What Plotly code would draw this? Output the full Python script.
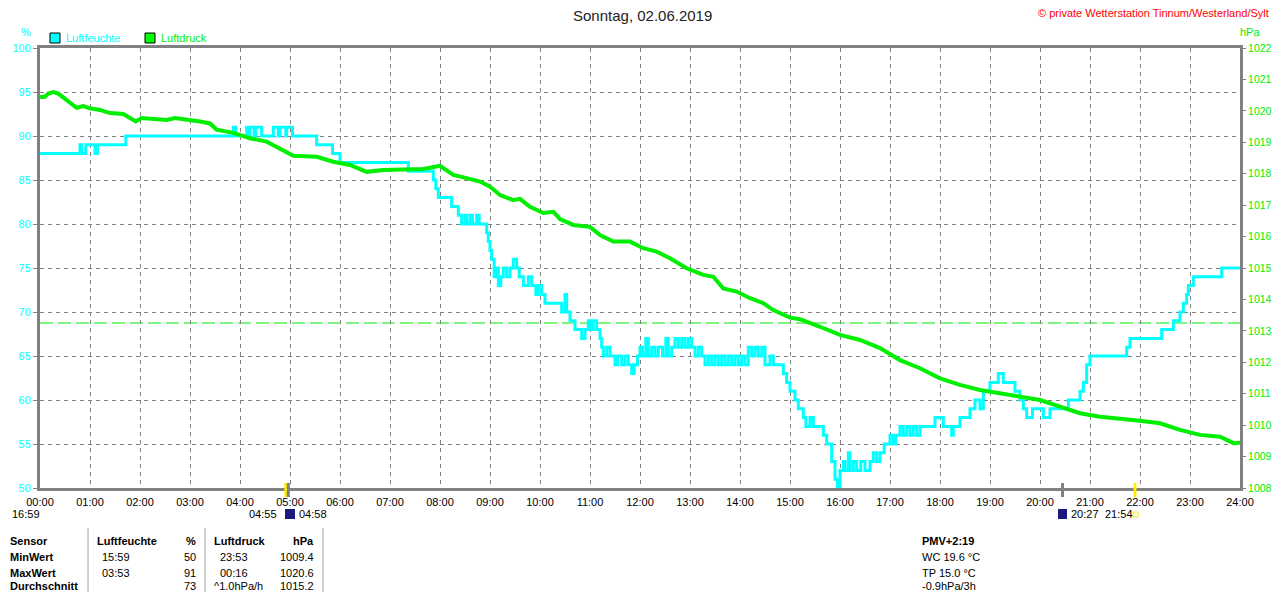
import plotly.graph_objects as go

# ---------------- data ----------------
hum_times = ["00:00","00:48","00:50","00:55","01:06","01:09","01:43","03:52","03:55","04:08","04:10",
             "04:12","04:17","04:19","04:26","04:40","04:46","04:48","04:55","04:56","05:03","05:32",
             "05:51","06:00","07:22","07:52","07:55","07:58","08:14","08:22","08:26","08:30","08:32",
             "08:36","08:39","08:44","08:47","08:56","08:58","09:00","09:02","09:05","09:08","09:10",
             "09:13","09:16","09:20","09:24","09:28","09:32","09:35","09:40","09:46","09:50","09:55",
             "09:58","10:02","10:06","10:26","10:30","10:32","10:36","10:42","10:50","10:54","10:58",
             "11:01","11:04","11:08","11:12","11:14","11:16","11:20","11:24","11:30","11:33","11:38",
             "11:42","11:46","11:50","11:53","11:57","12:00","12:03","12:07","12:10","12:14","12:18",
             "12:22","12:27","12:31","12:34","12:38","12:42","12:46","12:50","12:54","12:58","13:02",
             "13:06","13:10","13:14","13:18","13:22","13:26","13:30","13:34","13:38","13:42","13:46",
             "13:50","13:54","13:58","14:02","14:06","14:10","14:14","14:18","14:22","14:26","14:30",
             "14:36","14:40","14:52","14:56","15:00","15:06","15:10","15:16","15:19","15:24","15:28",
             "15:40","15:44","15:50","15:54","15:57","16:00","16:04","16:06","16:10","16:12","16:16",
             "16:20","16:25","16:30","16:36","16:40","16:44","16:48","16:53","17:00","17:04","17:07",
             "17:12","17:16","17:20","17:24","17:28","17:32","17:36","17:54","18:04","18:14","18:16",
             "18:24","18:36","18:42","18:48","18:52","19:00","19:10","19:16","19:30","19:36","19:40",
             "19:44","19:51","20:04","20:12","20:34","20:48","20:52","20:56","21:00","21:44","21:48",
             "22:26","22:40","22:48","22:52","22:56","22:58","23:04","23:38","24:00"]
hum_values = [88,89,88,89,88,89,90,91,90,91,90,
              91,90,91,90,91,90,91,90,91,90,89,
              88,87,86,85,84,83,82,81,80,81,80,
              81,80,81,80,79,78,77,76,74,75,73,
              74,75,74,75,76,75,74,73,74,73,72,
              73,72,71,70,72,70,69,68,67,68,69,
              68,69,68,67,66,65,66,65,64,65,64,
              65,64,63,64,65,66,65,67,65,66,65,
              66,65,67,65,66,67,66,67,66,67,66,
              65,66,65,64,65,64,65,64,65,64,65,
              64,65,64,65,64,66,65,66,65,66,64,
              65,64,63,62,61,60,59,58,57,58,57,
              56,55,53,51,50,52,53,52,54,52,53,
              52,53,52,53,54,53,54,55,56,55,56,
              57,56,57,56,57,56,57,58,57,56,57,
              58,59,60,59,61,62,63,62,61,60,59,
              58,59,58,59,60,61,62,64,65,66,67,
              68,69,70,71,72,73,74,75,75]

pres_times = ["00:00","00:06","00:10","00:16","00:22","00:32","00:44","00:52","01:00","01:12","01:24",
              "01:40","01:55","02:02","02:12","02:32","02:42","03:00","03:12","03:24","03:32","03:52",
              "04:12","04:32","04:52","05:04","05:32","05:52","06:12","06:32","06:52","07:12","07:40",
              "08:00","08:16","08:32","08:48","09:00","09:12","09:28","09:36","09:48","10:04","10:16",
              "10:24","10:40","11:00","11:12","11:28","11:48","12:04","12:20","12:36","12:56","13:16",
              "13:28","13:40","13:56","14:12","14:28","14:40","15:00","15:12","15:36","16:00","16:24",
              "16:48","17:12","17:36","18:00","18:24","18:48","19:12","19:36","20:00","20:24","20:48",
              "21:12","21:36","22:00","22:24","22:48","23:12","23:36","23:53","24:00"]
pres_values = [1020.44,1020.45,1020.55,1020.60,1020.55,1020.35,1020.10,1020.15,1020.08,1020.03,1019.93,
               1019.90,1019.66,1019.77,1019.74,1019.71,1019.77,1019.72,1019.66,1019.60,1019.40,1019.30,
               1019.13,1019.02,1018.75,1018.57,1018.54,1018.38,1018.28,1018.06,1018.12,1018.12,1018.15,
               1018.25,1017.96,1017.86,1017.75,1017.59,1017.32,1017.16,1017.20,1016.95,1016.75,1016.79,
               1016.56,1016.37,1016.31,1016.05,1015.84,1015.84,1015.63,1015.52,1015.31,1014.99,1014.78,
               1014.72,1014.35,1014.25,1014.04,1013.88,1013.66,1013.42,1013.37,1013.13,1012.87,1012.71,
               1012.45,1012.07,1011.81,1011.49,1011.28,1011.12,1011.01,1010.91,1010.80,1010.59,1010.38,
               1010.27,1010.22,1010.14,1010.06,1009.85,1009.69,1009.63,1009.42,1009.45]

ref_pressure = 1013.25
x_tick_vals = list(range(0, 25))
x_tick_text = ["%02d:00" % h for h in x_tick_vals]
hum_ticks = [50, 55, 60, 65, 70, 75, 80, 85, 90, 95, 100]
pres_ticks = list(range(1008, 1023))

sun_events = [("04:55", "#ffee00"), ("04:58", "#808080"), ("20:27", "#808080"), ("21:54", "#ffee00")]

table_rows = [
    ["Sensor", "Luftfeuchte", "%", "Luftdruck", "hPa"],
    ["MinWert", "15:59", "50", "23:53", "1009.4"],
    ["MaxWert", "03:53", "91", "00:16", "1020.6"],
    ["Durchschnitt", "", "73", "^1.0hPa/h", "1015.2"],
]
side_rows = ["PMV+2:19", "WC 19.6 °C", "TP 15.0 °C", "-0.9hPa/3h"]


def to_h(t):
    h, m = t.split(":")
    return int(h) + int(m) / 60.0


CYAN = "#00ffff"
GREEN = "#00ee00"
GRAY = "#808080"
FONT = "Liberation Sans"

# pixel helpers in screen pixels (plot area: x 40..1240, y 48..488)
def px(x):
    return (x - 40) / 1200.0

def py(y):
    return (488 - y) / 440.0


fig = go.Figure()
fig.add_trace(go.Scatter(x=[to_h(t) for t in pres_times], y=pres_values, yaxis="y2",
                         mode="lines", line=dict(color=GREEN, width=4), hoverinfo="skip"))
fig.add_trace(go.Scatter(x=[to_h(t) for t in hum_times], y=hum_values,
                         mode="lines", line=dict(color=CYAN, width=3, shape="hv"), hoverinfo="skip"))

shapes = []
shapes.append(dict(type="line", xref="x", yref="y2", x0=0, x1=24, y0=ref_pressure, y1=ref_pressure,
                   line=dict(color=GREEN, width=1, dash="13px,5px"), layer="below"))
for t, c in sun_events:
    shapes.append(dict(type="line", xref="x", yref="paper", x0=to_h(t), x1=to_h(t),
                       y0=py(483), y1=py(497), line=dict(color=c, width=3)))
shapes.append(dict(type="rect", xref="paper", yref="paper", x0=px(50), x1=px(60), y0=py(43), y1=py(33),
                   fillcolor=CYAN, line=dict(color="black", width=1)))
shapes.append(dict(type="rect", xref="paper", yref="paper", x0=px(145), x1=px(155), y0=py(43), y1=py(33),
                   fillcolor="#00ff00", line=dict(color="black", width=1)))
for sx in [88, 205, 323]:
    shapes.append(dict(type="line", xref="paper", yref="paper", x0=px(sx), x1=px(sx),
                       y0=py(528), y1=py(592), line=dict(color="#a0a0a0", width=1)))
shapes.append(dict(type="path", xref="paper", yref="paper",
                   path="M %f %f A 1 1 0 0 1 %f %f Z" % (px(40), py(517), px(48), py(517)),
                   fillcolor="#ffee00", line=dict(color="#ffee00", width=1)))
shapes.append(dict(type="rect", xref="paper", yref="paper", x0=px(285), x1=px(295), y0=py(519), y1=py(509),
                   fillcolor="#1a1a80", line=dict(width=0)))
shapes.append(dict(type="rect", xref="paper", yref="paper", x0=px(1058), x1=px(1067), y0=py(519), y1=py(509),
                   fillcolor="#1a1a80", line=dict(width=0)))
shapes.append(dict(type="rect", xref="paper", yref="paper", x0=px(1133), x1=px(1138), y0=py(517), y1=py(512),
                   fillcolor="rgba(0,0,0,0)", line=dict(color="#ffee00", width=1)))

ann = []
def text(x, y, s, color="black", size=11, xanchor="left", bold=False):
    ann.append(dict(xref="paper", yref="paper", x=px(x), y=py(y), text=("<b>%s</b>" % s) if bold else s,
                    showarrow=False, xanchor=xanchor, yanchor="middle",
                    font=dict(family=FONT, size=size, color=color)))

text(643, 15, "Sonntag, 02.06.2019", color="#222222", size=15, xanchor="center")
text(1271, 13, "© private Wetterstation Tinnum/Westerland/Sylt", color="#ff0000", size=11, xanchor="right")
text(26, 32, "%", color=CYAN, size=11, xanchor="center")
text(1250, 32, "hPa", color="#00ee00", size=11, xanchor="center")
text(64, 38, "Luftfeuchte", color=CYAN, size=11)
text(159, 38, "Luftdruck", color="#00ee00", size=11)

text(10, 514, "16:59")
text(279, 514, "04:55", xanchor="right")
text(297, 514, "04:58")
text(1069, 514, "20:27")
text(1103, 514, "21:54")

row_y = [541, 557, 573, 586]
for i, row in enumerate(table_rows):
    b = (i == 0)
    text(8, row_y[i], row[0], bold=True)
    if row[1]:
        text(95 if b else 100, row_y[i], row[1], bold=b)
    text(198, row_y[i], row[2], xanchor="right", bold=b)
    text(212 if (b or i == 3) else 218, row_y[i], row[3], bold=b)
    text(316, row_y[i], row[4], xanchor="right", bold=b)
for i, s in enumerate(side_rows):
    text(920, row_y[i], s, bold=(i == 0))

# the page body keeps an 8px margin on every side: a 1264x584 figure fills the 1280x600 window
# exactly, and the margins put the plot area at screen x 40..1240, y 48..488
fig.update_layout(
    width=1264, height=584, autosize=False,
    margin=dict(l=32, r=32, t=40, b=104, pad=0),
    paper_bgcolor="white", plot_bgcolor="white",
    showlegend=False,
    font=dict(family=FONT, size=11, color="black"),
    xaxis=dict(range=[0, 24], tickvals=x_tick_vals, ticktext=x_tick_text,
               showgrid=True, gridcolor=GRAY, griddash="4px,4px", gridwidth=1,
               showline=True, linecolor=GRAY, linewidth=3, mirror=True,
               ticks="outside", ticklen=2, tickcolor="rgba(0,0,0,0)", zeroline=False, automargin=False,
               tickfont=dict(family=FONT, size=11, color="black")),
    yaxis=dict(range=[50, 100], tickvals=hum_ticks,
               showgrid=True, gridcolor=GRAY, griddash="4px,4px", gridwidth=1,
               showline=True, linecolor=GRAY, linewidth=3, mirror=True, automargin=False,
               ticks="outside", ticklen=4, tickcolor=GRAY, zeroline=False,
               tickfont=dict(family=FONT, size=11, color=CYAN)),
    yaxis2=dict(range=[1008, 1022], tickvals=pres_ticks, overlaying="y", side="right",
                showgrid=False, showline=True, linecolor=GRAY, linewidth=3, automargin=False,
                ticks="outside", ticklen=3, tickcolor=GRAY, zeroline=False,
                tickfont=dict(family=FONT, size=10.5, color="#00ee00")),
    shapes=shapes, annotations=ann,
)

fig.write_html("out.html")
